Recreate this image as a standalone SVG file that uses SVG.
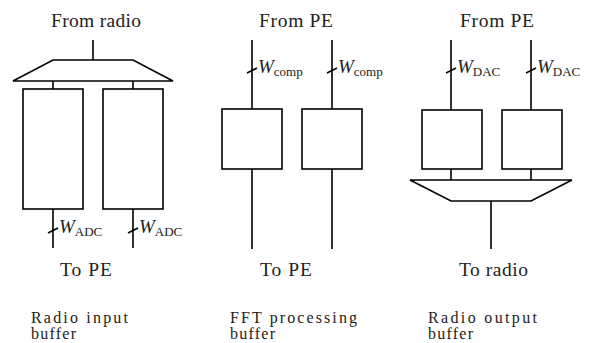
<svg xmlns="http://www.w3.org/2000/svg" width="589" height="343" viewBox="0 0 589 343">
<style>
.s{fill:none;stroke:#000;stroke-width:1.6;stroke-linejoin:miter}
.b{fill:#fff;stroke:#000;stroke-width:1.6}
text{font-family:'Liberation Serif','DejaVu Serif',serif;fill:#222}
.t{font-size:19.5px}
.n{font-size:16px}
.w{font-size:19px;font-style:italic}
.sub{font-style:normal;font-size:13px}
</style>
<rect width="589" height="343" fill="#fff"/>
<g id="connectors">
<path class="s" d="M93 40V60M53 81V89M133 81V89M53 209V248M133 209V248"/>
<path class="s" d="M252 40V109M332 40V109M252 169V249M332 169V249"/>
<path class="s" d="M451 40V110M531 40V110M451 169V180M531 169V180M491 201V249"/>
<path class="s" d="M48 233L58 228M128 233L138 228M247 73L257 68M327 73L337 68M446 73L456 68M526 73L536 68"/>
</g>
<g id="demux"><polygon class="b" points="53,60 133,60 173,81 13,81"/></g>
<g id="in-buf1"><rect class="b" x="23" y="89" width="60" height="120"/></g>
<g id="in-buf2"><rect class="b" x="103" y="89" width="60" height="120"/></g>
<g id="fft-buf1"><rect class="b" x="222" y="109" width="60" height="60"/></g>
<g id="fft-buf2"><rect class="b" x="302" y="109" width="60" height="60"/></g>
<g id="out-buf1"><rect class="b" x="422" y="110" width="60" height="59"/></g>
<g id="out-buf2"><rect class="b" x="502" y="110" width="60" height="59"/></g>
<g id="mux"><polygon class="b" points="410,180 572,180 531,201 451,201"/></g>
<g id="labels">
<text class="t" x="51" y="27" textLength="90">From radio</text>
<text class="t" x="259" y="27" textLength="74">From PE</text>
<text class="t" x="460" y="27" textLength="74">From PE</text>
<text class="t" x="60" y="276" textLength="52">To PE</text>
<text class="t" x="260" y="276" textLength="52">To PE</text>
<text class="t" x="459" y="276" textLength="69">To radio</text>
<text class="n" x="31" y="323" textLength="97">Radio input</text>
<text class="n" x="31" y="339" textLength="45">buffer</text>
<text class="n" x="230" y="323" textLength="127">FFT processing</text>
<text class="n" x="230" y="339" textLength="45">buffer</text>
<text class="n" x="428" y="323" textLength="109">Radio output</text>
<text class="n" x="428" y="339" textLength="45">buffer</text>
<text class="w" x="59" y="233">W<tspan class="sub" dy="3">ADC</tspan></text>
<text class="w" x="139" y="233">W<tspan class="sub" dy="3">ADC</tspan></text>
<text class="w" x="258" y="73">W<tspan class="sub" dy="3">comp</tspan></text>
<text class="w" x="338" y="73">W<tspan class="sub" dy="3">comp</tspan></text>
<text class="w" x="457" y="73">W<tspan class="sub" dy="3">DAC</tspan></text>
<text class="w" x="537" y="73">W<tspan class="sub" dy="3">DAC</tspan></text>
</g>
</svg>
